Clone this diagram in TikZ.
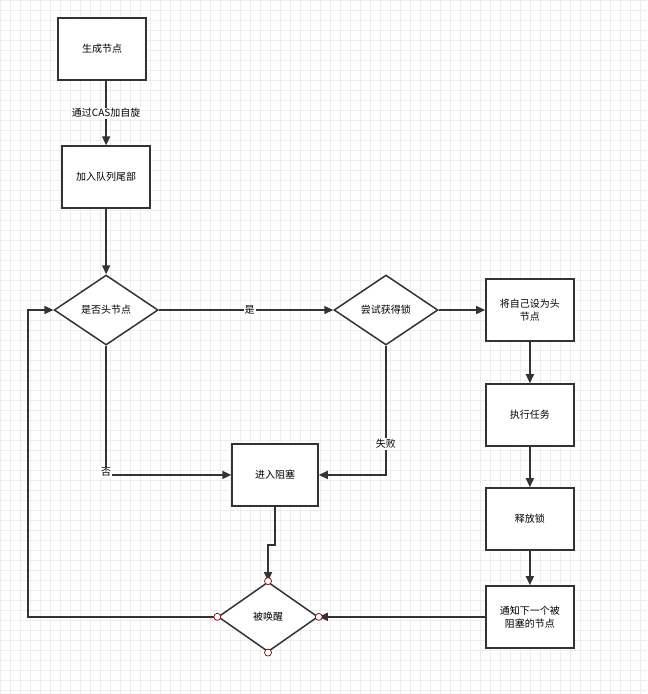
\documentclass[tikz,border=0pt]{standalone}
\usepackage{fontspec}
\setmainfont{Noto Sans CJK SC}
\usetikzlibrary{shapes.geometric,arrows.meta}
\begin{document}
\begin{tikzpicture}[x=1pt,y=-1pt,
  box/.style={draw=black!80,line width=1.5pt,fill=white,minimum width=88pt,minimum height=62pt,align=center,font=\fontsize{10}{13}\selectfont,inner sep=2pt,text width=76pt},
  dia/.style={draw=black!80,line width=1.5pt,fill=white,diamond,minimum width=104pt,minimum height=70pt,inner sep=0pt,aspect=1.5,font=\fontsize{10}{13}\selectfont},
  arr/.style={draw=black!80,line width=1.5pt,-{Triangle[length=9pt,width=8pt]}},
  lab/.style={fill=white,inner sep=1pt,font=\fontsize{10}{13}\selectfont},
  dot/.style={circle,draw=red!50!black,fill=white,line width=0.7pt,minimum size=7pt,inner sep=0pt}]
\fill[white] (0,0) rectangle (647,694);
\foreach \t in {0,10,...,690} {\draw[black!7,line width=0.4pt] (0,\t) -- (647,\t);}
\foreach \t in {0,10,...,640} {\draw[black!7,line width=0.4pt] (\t,0) -- (\t,694);}
\useasboundingbox (0,0) rectangle (647,694);
\node[box] (a) at (102,49) {\centering 生成节点};
\node[box] (b) at (106,177) {\centering 加入队列尾部};
\node[dia] (c) at (106,310) {是否头节点};
\node[dia] (d) at (386,310) {尝试获得锁};
\node[box] (e) at (530,310) {\centering 将自己设为头\\节点};
\node[box] (f) at (530,415) {\centering 执行任务};
\node[box] (g) at (530,519) {\centering 释放锁};
\node[box] (h) at (530,617) {\centering 通知下一个被\\阻塞的节点};
\node[box,minimum width=86pt] (i) at (275,475) {\centering 进入阻塞};
\node[dia,minimum width=100pt] (j) at (268,617) {被唤醒};
\coordinate (k1) at (275,545);
\coordinate (k2) at (268,545);
\coordinate (w1) at (28,617);
\coordinate (w2) at (28,310);
\draw[arr] (b.north|-a.south) -- node[lab] {通过CAS加自旋} (b.north);
\draw[arr] (b.south) -- (c.north);
\draw[arr] (c) -- node[lab,pos=0.52] {是} (d);
\draw[arr] (d) -- (e);
\draw[arr] (e) -- (f);
\draw[arr] (f) -- (g);
\draw[arr] (g) -- (h);
\draw[arr] (h) -- (j.east);
\draw[arr] (c.south) |- node[lab,pos=0.49] {否} (i.west);
\draw[arr] (d.south) |- node[lab,pos=0.38] {失败} (i.east);
\draw[arr] (i.south) -- (k1) -- (k2) -- (j.north);
\draw[arr] (j.west) -- (w1) -- (w2) -- (c.west);
\foreach \p in {north,south,east,west} \node[dot] at (j.\p) {};
\end{tikzpicture}
\end{document}
